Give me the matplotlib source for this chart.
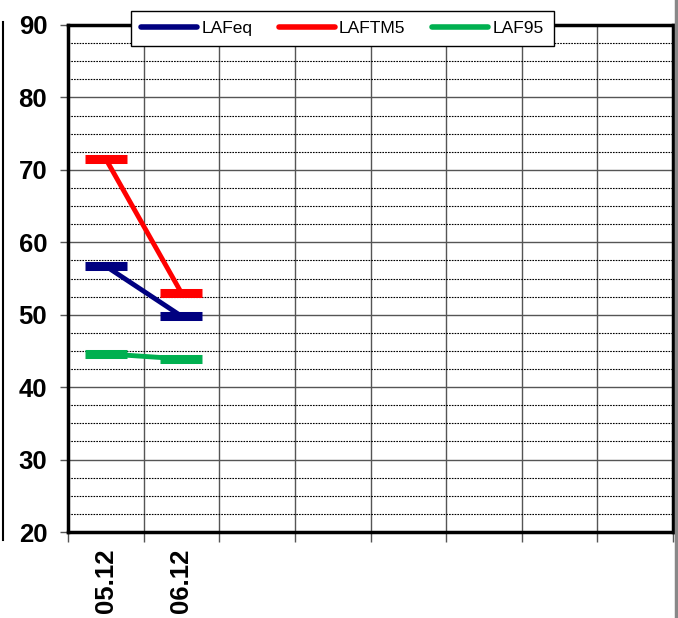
import matplotlib.pyplot as plt
from matplotlib.lines import Line2D
from matplotlib.ticker import MultipleLocator, FixedLocator

plt.rcParams['font.family'] = ['Liberation Sans', 'DejaVu Sans']

# ── data ─────────────────────────────────────────────
dates = ['05.12', '06.12']
n_slots = 8
laf_eq = [56.7, 49.8]
laf_tm5 = [71.5, 53.0]
laf_95 = [44.6, 43.9]

NAVY = '#000080'
RED = '#FF0000'
GREEN = '#00B050'

fig = plt.figure(figsize=(6.78, 6.18), dpi=100)
ax = fig.add_axes([68 / 678, 86 / 618, 605 / 678, 507 / 618])

x = list(range(len(dates)))
series = [(laf_eq, NAVY, 'LAFeq'), (laf_tm5, RED, 'LAFTM5'), (laf_95, GREEN, 'LAF95')]
for vals, col, lab in series:
    ax.plot(x, vals, color=col, lw=3.5, marker='_', markersize=30,
            markeredgewidth=6.5, label=lab, zorder=3, solid_capstyle='butt')

ax.set_xlim(-0.5, n_slots - 0.5)
ax.set_ylim(20, 90)

# y axis: major every 10, dotted minor every 2.5
ax.yaxis.set_major_locator(MultipleLocator(10))
ax.yaxis.set_minor_locator(MultipleLocator(2.5))
ax.grid(which='major', axis='y', color='#555555', lw=1.0, zorder=1)
ax.grid(which='minor', axis='y', color='black', lw=0.8, ls=(0, (1.5, 1)), zorder=1)
ax.tick_params(axis='y', which='major', length=6, width=1, color='#555555',
               pad=9, labelsize=18.5)
ax.tick_params(axis='y', which='minor', length=0)
for t in ax.get_yticklabels():
    t.set_fontweight('bold')

# x axis: ticks at slot boundaries, labels centred in slots
ax.xaxis.set_major_locator(FixedLocator([i - 0.5 for i in range(n_slots + 1)]))
ax.xaxis.set_minor_locator(FixedLocator(x))
ax.set_xticklabels([], minor=False)
ax.set_xticklabels(dates, minor=True, rotation=90, fontsize=18.5, fontweight='bold')
ax.tick_params(axis='x', which='major', length=7, width=1, color='#555555')
ax.tick_params(axis='x', which='minor', length=0, pad=12)
ax.grid(which='major', axis='x', color='#555555', lw=1.0, zorder=1)

for s in ax.spines.values():
    s.set_linewidth(2.5)
    s.set_color('black')

leg = ax.legend(loc='center', ncol=3, bbox_to_anchor=(342.5 / 678, 1 - 28.5 / 618),
                bbox_transform=fig.transFigure, fontsize=12.5, frameon=True,
                fancybox=False, shadow=False, framealpha=1, edgecolor='black',
                handlelength=3.2, handletextpad=0.25, columnspacing=1.55,
                borderpad=0.6, markerscale=0)
leg.get_frame().set_linewidth(1.0)
for h in leg.legend_handles:
    h.set_marker('')
    h.set_linewidth(4)
    h.set_solid_capstyle('round')
leg.set_zorder(5)

# edges of the neighbouring chart areas
fig.add_artist(Line2D([2.5 / 678, 2.5 / 678], [1 - 540 / 618, 1 - 22 / 618],
                      color='black', lw=1.5))
fig.add_artist(Line2D([676 / 678, 676 / 678], [0, 1], color='#888888', lw=2.5))

fig.savefig('out.png', dpi=100, facecolor='white')
